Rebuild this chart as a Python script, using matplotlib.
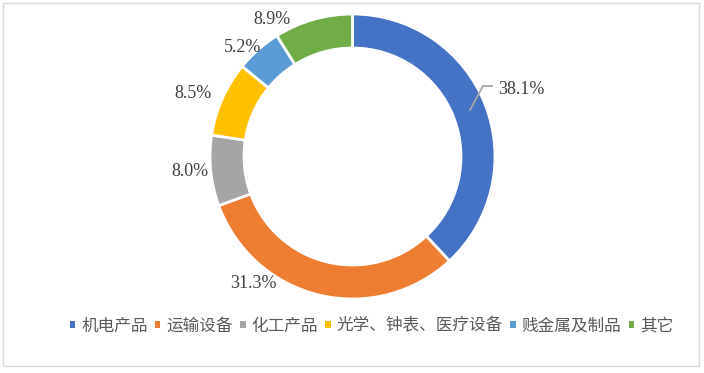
import matplotlib.pyplot as plt
from matplotlib.patches import Patch, Rectangle

categories = ["机电产品", "运输设备", "化工产品", "光学、钟表、医疗设备", "贱金属及制品", "其它"]
shares = [38.1, 31.3, 8.0, 8.5, 5.2, 8.9]
colors = ["#4472C4", "#ED7D31", "#A5A5A5", "#FFC000", "#5B9BD5", "#70AD47"]

# label anchor positions in image pixels (x, y from top)
label_pos = [(498, 89), (253, 283), (190, 172), (193, 93), (243, 47), (272, 19)]

W, H = 704, 373
fig = plt.figure(figsize=(W / 100, H / 100), dpi=100)
ax = fig.add_axes([0, 0, 1, 1])

cx, cy, r = 352.5, H - 156.5, 142.5
ax.pie(shares, colors=colors, startangle=90, counterclock=False,
       radius=r, center=(cx, cy), frame=True,
       wedgeprops=dict(width=34, edgecolor="white", linewidth=2))
ax.set_xlim(0, W)
ax.set_ylim(0, H)
ax.set_aspect("equal")
ax.axis("off")

for val, (x, y) in zip(shares, label_pos):
    ha = "left" if x > cx else "center"
    ax.text(x, H - y, f"{val:.1f}%", ha=ha, va="center", fontsize=13,
            family="Liberation Serif", color="#404040")

# leader line for the first label
ax.plot([470, 483, 492], [H - 110, H - 86, H - 86], color="#A6A6A6", lw=1.3)

# frame around the chart
ax.add_patch(Rectangle((3, H - 366), 696, 363, fill=False, edgecolor="#D9D9D9", lw=1))

handles = [Patch(facecolor=c, edgecolor="none") for c in colors]
ax.legend(handles, categories, loc="center", bbox_to_anchor=(371.5 / W, 1 - 326 / H),
          ncol=6, frameon=False, handlelength=0.32, handleheight=0.32,
          handletextpad=0.35, columnspacing=0.45, borderpad=0,
          prop={"family": ["Noto Sans CJK SC", "DejaVu Sans"], "size": 12},
          labelcolor="#595959")

fig.savefig("out.png", dpi=100)
